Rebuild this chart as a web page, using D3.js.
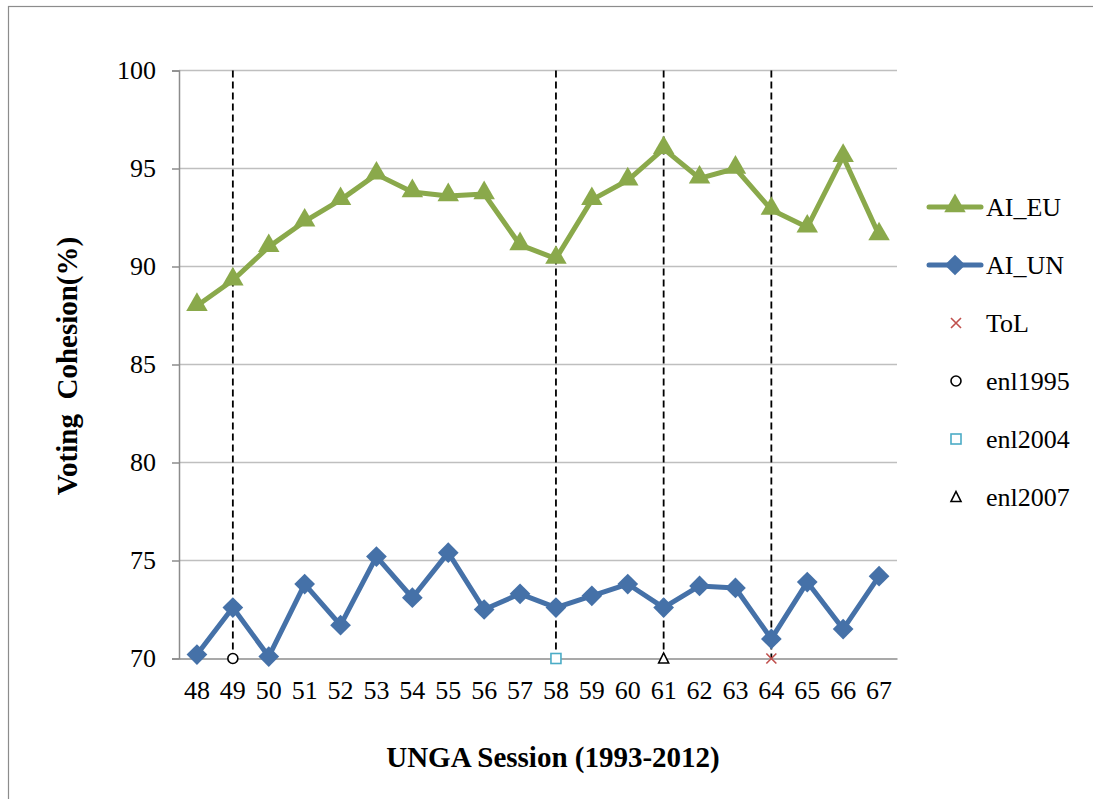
<!DOCTYPE html>
<html><head><meta charset="utf-8">
<script src="https://cdn.jsdelivr.net/npm/d3@7"></script>
<style>body{margin:0;background:#fff;} svg{display:block;}</style>
</head><body>
<svg id="c" width="1093" height="799"></svg>
<script>
const sessions = [48,49,50,51,52,53,54,55,56,57,58,59,60,61,62,63,64,65,66,67];
const aiEU = [88.0,89.3,91.0,92.3,93.4,94.7,93.8,93.6,93.7,91.1,90.4,93.4,94.4,96.0,94.5,95.0,92.9,92.0,95.6,91.6];
const aiUN = [70.2,72.6,70.1,73.8,71.7,75.2,73.1,75.4,72.5,73.3,72.6,73.2,73.8,72.6,73.7,73.6,71.0,73.9,71.5,74.2];
const yTicks = [70,75,80,85,90,95,100];
const events = [
  {name:"ToL", session:64, value:70},
  {name:"enl1995", session:49, value:70},
  {name:"enl2004", session:58, value:70},
  {name:"enl2007", session:61, value:70}
];
const legendOrder = ["AI_EU","AI_UN","ToL","enl1995","enl2004","enl2007"];

(function(){
const svg = d3.select("#c");
const font = "'Liberation Serif','Times New Roman',serif";
svg.append("rect").attr("x",8.5).attr("y",6.5).attr("width",1200).attr("height",900)
  .attr("fill","none").attr("stroke","#8c8c8c").attr("stroke-width",1.2);

const pL=179, pR=897, pT=70.5, pB=658.5;
const x = d3.scaleBand().domain(sessions).range([pL,pR]);
const cx = s => x(s)+x.bandwidth()/2;
const y = d3.scaleLinear().domain([70,100]).range([pB,pT]);

svg.append("g").selectAll("line").data(yTicks.filter(t=>t>70)).join("line")
  .attr("x1",pL).attr("x2",pR).attr("y1",d=>y(d)).attr("y2",d=>y(d))
  .attr("stroke","#bfbfbf").attr("stroke-width",1.5);

const ya = svg.append("g").attr("transform",`translate(${pL},0)`)
  .call(d3.axisLeft(y).tickValues(yTicks).tickSize(7).tickPadding(16));
ya.select(".domain").attr("stroke","#8c8c8c").attr("stroke-width",1.5);
ya.selectAll(".tick line").attr("stroke","#8c8c8c").attr("stroke-width",1.5);
ya.selectAll("text").attr("font-family",font).attr("font-size",26).attr("fill","#000");

const xa = svg.append("g").attr("transform",`translate(0,${pB})`)
  .call(d3.axisBottom(x).tickSize(0).tickPadding(22));
xa.select(".domain").attr("stroke","#8c8c8c").attr("stroke-width",1.5);
xa.selectAll("text").attr("font-family",font).attr("font-size",26).attr("fill","#000").attr("dy","0.71em");

svg.append("g").selectAll("line").data(events).join("line")
  .attr("x1",d=>cx(d.session)).attr("x2",d=>cx(d.session))
  .attr("y1",pT).attr("y2",pB)
  .attr("stroke","#000").attr("stroke-width",1.8).attr("stroke-dasharray","7,4");

const line = d3.line().x((d,i)=>cx(sessions[i])).y(d=>y(d));
const green="#8aa94b", blue="#4571a8";
svg.append("path").datum(aiEU).attr("d",line).attr("fill","none").attr("stroke",green).attr("stroke-width",5).attr("stroke-linejoin","round");
svg.append("path").datum(aiUN).attr("d",line).attr("fill","none").attr("stroke",blue).attr("stroke-width",5).attr("stroke-linejoin","round");

const tri = d3.symbol().type(d3.symbolTriangle).size(200);
const dia = d3.symbol().type(d3.symbolSquare).size(215);
svg.append("g").selectAll("path").data(aiEU).join("path")
  .attr("d",tri()).attr("transform",(d,i)=>`translate(${cx(sessions[i])},${y(d)-1})`).attr("fill",green);
svg.append("g").selectAll("path").data(aiUN).join("path")
  .attr("d",dia()).attr("transform",(d,i)=>`translate(${cx(sessions[i])},${y(d)}) rotate(45)`).attr("fill",blue);

function drawEvent(g, name){
  if(name==="ToL"){
    g.append("path").attr("d","M-5,-5L5,5M-5,5L5,-5").attr("stroke","#c0504d").attr("stroke-width",1.6).attr("fill","none");
  } else if(name==="enl1995"){
    g.append("circle").attr("r",5).attr("fill","#fff").attr("stroke","#000").attr("stroke-width",1.6);
  } else if(name==="enl2004"){
    g.append("rect").attr("x",-5).attr("y",-5).attr("width",10).attr("height",10).attr("fill","#fff").attr("stroke","#4bacc6").attr("stroke-width",1.6);
  } else {
    g.append("path").attr("d","M0,-5.5L5,4.5L-5,4.5Z").attr("fill","#fff").attr("stroke","#000").attr("stroke-width",1.6);
  }
}
events.forEach(e=>{
  const g = svg.append("g").attr("transform",`translate(${cx(e.session)},${y(e.value)})`);
  drawEvent(g, e.name);
});

const lg = svg.append("g");
legendOrder.forEach((name,i)=>{
  const ly = 207 + i*58;
  const g = lg.append("g").attr("transform",`translate(0,${ly})`);
  if(name==="AI_EU"||name==="AI_UN"){
    const col = name==="AI_EU"?green:blue;
    g.append("line").attr("x1",929).attr("x2",981).attr("y1",0).attr("y2",0).attr("stroke",col).attr("stroke-width",5).attr("stroke-linecap","round");
    if(name==="AI_EU") g.append("path").attr("d",tri()).attr("transform","translate(955,-1)").attr("fill",col);
    else g.append("path").attr("d",dia()).attr("transform","translate(955,0) rotate(45)").attr("fill",col);
  } else {
    const mg = g.append("g").attr("transform","translate(956,0)");
    drawEvent(mg,name);
  }
  g.append("text").attr("x",986).attr("y",0).attr("dy","0.35em").attr("font-family",font).attr("font-size",26).text(name);
});

svg.append("text").attr("x",553).attr("y",767).attr("text-anchor","middle")
  .attr("font-family",font).attr("font-size",29).attr("font-weight","bold").text("UNGA Session (1993-2012)");
svg.append("text").attr("transform","translate(77,366) rotate(-90)").attr("text-anchor","middle")
  .attr("font-family",font).attr("font-size",29).attr("font-weight","bold").style("white-space","pre").text("Voting  Cohesion(%)");
})();
</script>
</body></html>
